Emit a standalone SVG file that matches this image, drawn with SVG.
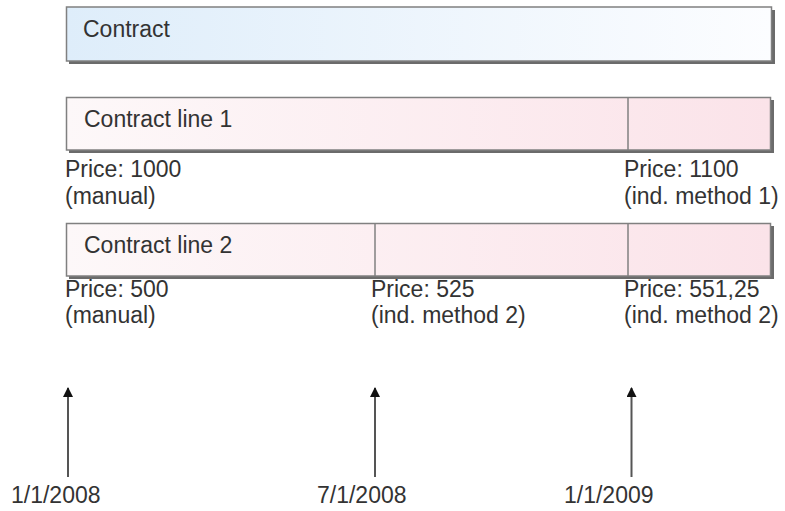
<svg xmlns="http://www.w3.org/2000/svg" width="785" height="511" viewBox="0 0 785 511">
  <defs>
    <linearGradient id="gBlue" x1="0" y1="0" x2="1" y2="0">
      <stop offset="0" stop-color="#deedfa"/>
      <stop offset="1" stop-color="#fcfdff"/>
    </linearGradient>
    <linearGradient id="gPink" x1="0" y1="0" x2="1" y2="0">
      <stop offset="0" stop-color="#fdf8f9"/>
      <stop offset="1" stop-color="#fbe3e9"/>
    </linearGradient>
    <marker id="arr" markerWidth="10" markerHeight="10" refX="9" refY="5" orient="auto" markerUnits="userSpaceOnUse" viewBox="0 0 10 10">
      <path d="M0,0 L10,5 L0,10 Z" fill="#111"/>
    </marker>
  </defs>
  <style>
    text { font-family: "Liberation Sans", Arial, sans-serif; font-size: 23px; fill: #333; }
    .shadow { fill: #6b6b6b; }
    .box { stroke: #808080; stroke-width: 1.5; }
    .div { stroke: #808080; stroke-width: 1.5; }
    .conn line { stroke: #555; stroke-width: 2; }
  </style>
  <rect width="785" height="511" fill="#fff"/>

  <g id="contract">
    <rect class="shadow" x="69" y="10" width="706" height="54"/>
    <rect class="box" x="66.5" y="7" width="705" height="54" fill="url(#gBlue)"/>
    <text x="83" y="37">Contract</text>
  </g>

  <g id="contract-line-1">
    <rect class="shadow" x="69" y="100" width="705" height="53"/>
    <rect class="box" x="66.5" y="97.5" width="704" height="52.5" fill="url(#gPink)"/>
    <line class="div" x1="628" y1="97.5" x2="628" y2="150"/>
    <text x="84" y="127">Contract line 1</text>
  </g>

  <g id="contract-line-2">
    <rect class="shadow" x="69" y="226" width="705" height="53"/>
    <rect class="box" x="66.5" y="223.5" width="704" height="52.5" fill="url(#gPink)"/>
    <line class="div" x1="375" y1="223.5" x2="375" y2="276"/>
    <line class="div" x1="628" y1="223.5" x2="628" y2="276"/>
    <text x="84" y="253">Contract line 2</text>
  </g>

  <g id="labels-line-1">
    <text x="65" y="177">Price: 1000</text>
    <text x="65" y="204">(manual)</text>
    <text x="624" y="177">Price: 1100</text>
    <text x="624" y="204">(ind. method 1)</text>
  </g>

  <g id="labels-line-2">
    <text x="65" y="297">Price: 500</text>
    <text x="65" y="323">(manual)</text>
    <text x="371" y="297">Price: 525</text>
    <text x="371" y="323">(ind. method 2)</text>
    <text x="624" y="297">Price: 551,25</text>
    <text x="624" y="323">(ind. method 2)</text>
  </g>

  <g id="connectors" class="conn">
    <line x1="68" y1="477" x2="68" y2="388" marker-end="url(#arr)"/>
    <line x1="375" y1="477" x2="375" y2="388" marker-end="url(#arr)"/>
    <line x1="631.5" y1="477" x2="631.5" y2="388" marker-end="url(#arr)"/>
  </g>

  <g id="dates">
    <text x="11" y="503">1/1/2008</text>
    <text x="317" y="503">7/1/2008</text>
    <text x="564" y="503">1/1/2009</text>
  </g>
</svg>
